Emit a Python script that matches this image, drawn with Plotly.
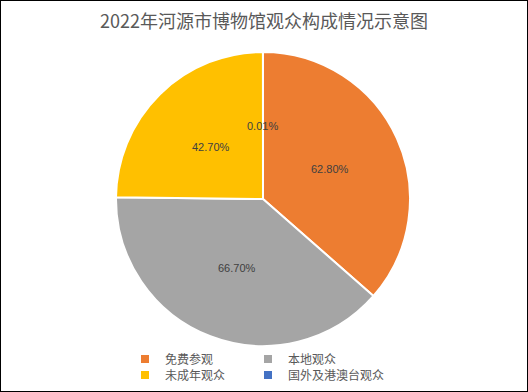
import math
import plotly.graph_objects as go

categories = ["免费参观", "本地观众", "未成年观众", "国外及港澳台观众"]
values = [62.80, 66.70, 42.70, 0.01]
colors = ["#ED7D31", "#A5A5A5", "#FFC000", "#4472C4"]
title = "2022年河源市博物馆观众构成情况示意图"

# legend placement style (pixel x of legend box, pixel y of row centre)
legend_px = [(125, 359), (248, 359), (125, 375), (248, 375)]

W, H = 528, 392
cx, cy, R = 263, 199, 147
label_r = 0.5
dom_x = [(cx - R) / W, (cx + R) / W]
dom_y = [1 - (cy + R) / H, 1 - (cy - R) / H]

fig = go.Figure()
fig.add_trace(go.Pie(
    labels=categories, values=values, sort=False, direction="clockwise",
    rotation=0, marker=dict(colors=colors, line=dict(color="white", width=2)),
    textinfo="none", hoverinfo="label+value", domain=dict(x=dom_x, y=dom_y),
    showlegend=False,
))

legend_font = dict(size=12, color="#595959", family="Noto Sans CJK SC")
layout_legends = {}
for i, (name, col) in enumerate(zip(categories, colors)):
    key = "legend" if i == 0 else f"legend{i + 1}"
    fig.add_trace(go.Scatter(
        x=[None], y=[None], mode="markers", name=name,
        marker=dict(symbol="square", size=8, color=col),
        showlegend=True, legend=key, hoverinfo="skip",
    ))
    lx, ly = legend_px[i]
    layout_legends[key] = dict(x=lx / W, xanchor="left", y=1 - ly / H, yanchor="middle",
                               font=legend_font, bgcolor="rgba(0,0,0,0)",
                               itemclick=False, itemdoubleclick=False)

total = sum(values)
cum = 0
annotations = []
for v in values:
    mid = (cum + v / 2) / total * 2 * math.pi
    cum += v
    x = cx + label_r * R * math.sin(mid)
    y = cy - label_r * R * math.cos(mid)
    annotations.append(dict(x=x / W, y=1 - y / H, xref="paper", yref="paper",
                            xanchor="center", yanchor="middle",
                            text=f"{v:.2f}%", showarrow=False,
                            font=dict(size=11, color="#404040",
                                      family="Liberation Sans, Noto Sans CJK SC")))

fig.update_layout(
    width=W, height=H, margin=dict(l=0, r=0, t=0, b=0, autoexpand=False),
    paper_bgcolor="white", plot_bgcolor="white",
    xaxis=dict(visible=False, range=[0, 1]), yaxis=dict(visible=False, range=[0, 1]),
    title=dict(text=title, x=0.5, xanchor="center", y=1 - 22 / H, yanchor="middle",
               font=dict(size=18, color="#595959", family="Noto Sans CJK SC")),
    annotations=annotations,
    shapes=[dict(type="rect", xref="paper", yref="paper", x0=0, x1=1, y0=0, y1=1,
                 line=dict(color="black", width=2))],
    **layout_legends,
)

fig.write_html("out.html", config={"displayModeBar": False},
               post_script="document.body.style.margin='0';document.body.style.overflow='hidden';")
